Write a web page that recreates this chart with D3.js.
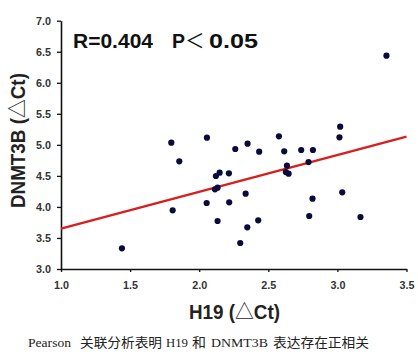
<!DOCTYPE html>
<html><head><meta charset="utf-8">
<script src="https://cdn.jsdelivr.net/npm/d3@7"></script>
<style>body{margin:0;background:#fff;}svg{display:block;}</style>
</head><body>
<svg id="c" width="418" height="352"></svg>
<script>
const h19 = [1.441,1.798,1.856,1.808,2.056,2.054,2.121,2.148,2.114,2.133,2.133,2.215,2.217,2.261,2.350,2.336,2.297,2.348,2.427,2.434,2.577,2.615,2.635,2.627,2.647,2.738,2.823,2.791,2.796,2.820,3.020,3.015,3.035,3.167,3.355];
const dnmt3b = [3.333,5.035,4.734,3.945,5.115,4.063,4.498,4.552,4.283,4.310,3.773,4.542,4.074,4.933,5.019,4.213,3.419,3.671,3.784,4.890,5.137,4.895,4.664,4.562,4.536,4.917,4.917,4.723,3.854,4.133,5.293,5.121,4.235,3.838,6.436];
const fitX = [1.0, 3.5];
const fitY = [3.650, 5.132];
const xTicks = [1.0,1.5,2.0,2.5,3.0,3.5];
const yTicks = [3.0,3.5,4.0,4.5,5.0,5.5,6.0,6.5,7.0];
const rText = "R=0.404", pText = "P", ltText = "\uFF1C", pVal = "0.05";
const xLabelParts = ["H19 (", "\u25B3", "Ct)"];
const yLabelParts = ["DNMT3B (", "\u25B3", "Ct)"];
const captionParts = [["Pearson",28,43,"l"],["关联分析表明",80,82,"c"],["H19",166,22,"l"],["和",192,14,"c"],["DNMT3B",211,57,"l"],["表达存在正相关",273,96,"c"]];

const SANS = "Liberation Sans, Arial, sans-serif";
const CJK = "'Noto Sans CJK SC', sans-serif";
const svg = d3.select("#c");
const x = d3.scaleLinear().domain([1,3.5]).range([61,406.5]);
const y = d3.scaleLinear().domain([3,7]).range([269,20.7]);

const xa = svg.append("g").attr("transform","translate(0,269)")
  .call(d3.axisBottom(x).tickValues(xTicks).tickFormat(d3.format(".1f")).tickSize(3).tickSizeOuter(0));
const ya = svg.append("g").attr("transform","translate(61,0)")
  .call(d3.axisLeft(y).tickValues(yTicks).tickFormat(d3.format(".1f")).tickSize(4).tickSizeOuter(0));
[xa,ya].forEach(a=>{
  a.select(".domain").attr("stroke","#111").attr("stroke-width",1.6);
  a.selectAll(".tick line").attr("stroke","#111").attr("stroke-width",1.3);
  a.selectAll(".tick text").attr("font-family",SANS)
   .attr("font-weight","bold").attr("font-size",10).attr("fill","#333")
   .attr("textLength",15).attr("lengthAdjust","spacingAndGlyphs");
});
xa.selectAll(".tick text").attr("dy",null).attr("y",19.5);
ya.selectAll(".tick text").attr("x",-10).attr("dy","0.35em");

svg.append("line")
  .attr("x1",x(fitX[0])).attr("y1",y(fitY[0]))
  .attr("x2",x(fitX[1])).attr("y2",y(fitY[1]))
  .attr("stroke","#d61f1f").attr("stroke-width",2.4);

svg.append("g").selectAll("circle").data(h19.map((v,i)=>[v,dnmt3b[i]])).join("circle")
  .attr("cx",d=>x(d[0])).attr("cy",d=>y(d[1])).attr("r",3.1).attr("fill","#0b0b3b");

// stat text
svg.append("text").attr("x",73).attr("y",48.3)
  .attr("font-family",SANS).attr("font-weight","bold").attr("font-size",19.5).attr("fill","#111")
  .attr("textLength",80).attr("lengthAdjust","spacingAndGlyphs").text(rText);
const pt = svg.append("text").attr("x",172).attr("y",48.3)
  .attr("font-size",19.5).attr("fill","#111");
pt.append("tspan").attr("font-family",SANS).attr("font-weight","bold").text(pText);
pt.append("tspan").attr("font-family",CJK).text(ltText);
svg.append("text").attr("x",209).attr("y",48.3)
  .attr("font-family",SANS).attr("font-weight","bold").attr("font-size",19.5).attr("fill","#111")
  .attr("textLength",49).attr("lengthAdjust","spacingAndGlyphs").text(pVal);

function label(parts){
  return (sel)=>{
    sel.append("tspan").attr("font-family",SANS).text(parts[0]);
    sel.append("tspan").attr("font-family",CJK).attr("font-weight","normal").text(parts[1]);
    sel.append("tspan").attr("font-family",SANS).text(parts[2]);
  };
}
function fitTo(sel, len){
  const w = sel.node().getComputedTextLength();
  return len / w;
}
const xl = svg.append("text").attr("font-weight","bold").attr("font-size",20).attr("fill","#222")
  .call(label(xLabelParts));
xl.attr("transform",`translate(189,319.3) scale(${fitTo(xl,91)},1)`);

const yl = svg.append("text").attr("font-weight","bold").attr("font-size",20.5).attr("fill","#222")
  .call(label(yLabelParts));
yl.attr("transform",`translate(24.5,208) rotate(-90) scale(${fitTo(yl,135)},1)`);

captionParts.forEach(([t,xx,len,k])=>{
  svg.append("text").attr("x",xx).attr("y",347)
    .attr("font-family", k==="l" ? "Liberation Serif, serif" : "'Noto Sans CJK SC', serif")
    .attr("font-size", k==="l" ? 13.5 : 13).attr("fill","#222")
    .attr("textLength",len).attr("lengthAdjust","spacingAndGlyphs").text(t);
});
</script>
</body></html>
